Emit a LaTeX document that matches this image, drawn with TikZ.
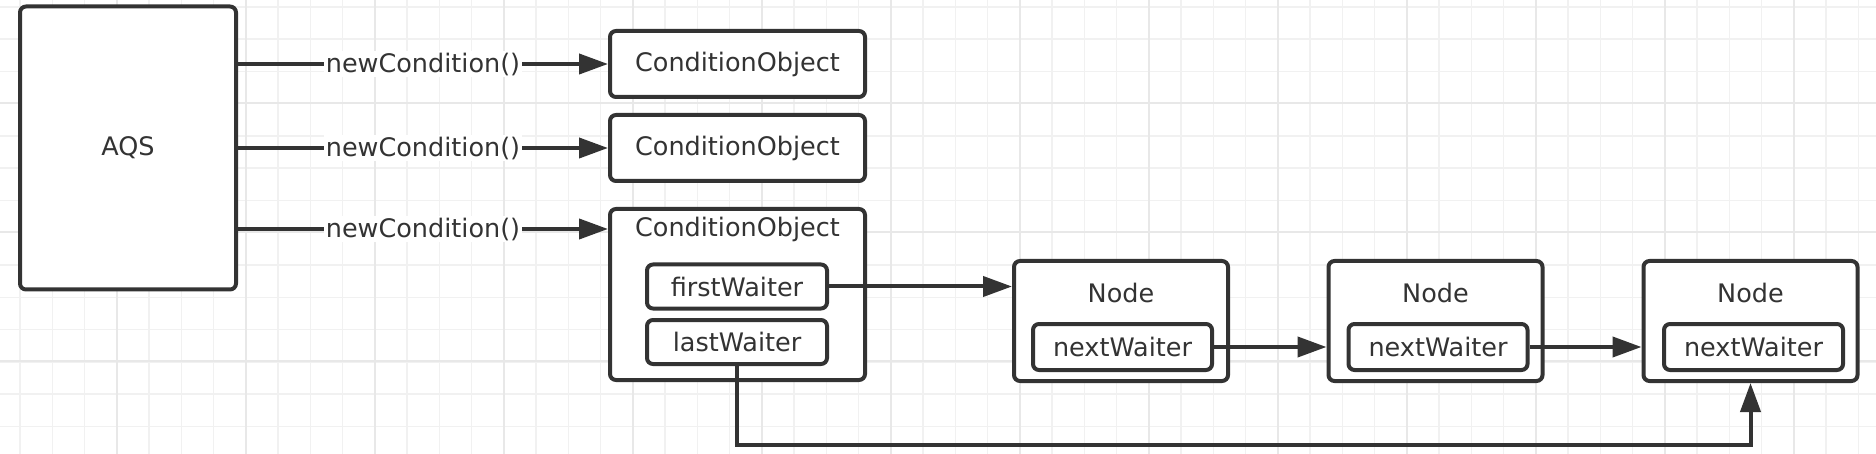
\documentclass[tikz,border=0pt]{standalone}
\usepackage{fontspec}
\setmainfont{DejaVu Sans}
\usetikzlibrary{arrows.meta}
\definecolor{ink}{HTML}{333333}
\definecolor{gridminor}{HTML}{F1F1F1}
\definecolor{gridmajor}{HTML}{E8E8E8}
\tikzset{
  txt/.style={font=\fontsize{25.5}{30}\selectfont, text=ink},
  box/.style={draw=ink, line width=4pt, rounded corners=6pt, fill=white, inner sep=0pt},
  conn/.style={draw=ink, line width=4pt, -{Triangle[length=29pt,width=20pt]}},
  lbl/.style={txt, fill=white, inner sep=2pt},
}
\begin{document}
\begin{tikzpicture}[x=1pt,y=-1pt]
\useasboundingbox (0,0) rectangle (1876,454);
\fill[white] (0,0) rectangle (1876,454);
% grid
\foreach \k in {0,...,58} {
  \draw[gridminor, line width=1.5pt] ({20+32.25*\k},0) -- ({20+32.25*\k},454);
}
\foreach \k in {0,...,14} {
  \draw[gridminor, line width=1.5pt] (0,{7+32.25*\k}) -- (1876,{7+32.25*\k});
}
\foreach \k in {0,...,14} {
  \draw[gridmajor, line width=1.6pt] ({117+129*\k},0) -- ({117+129*\k},454);
}
\foreach \k in {0,...,3} {
  \draw[gridmajor, line width=1.6pt] (0,{103+129*\k}) -- (1876,{103+129*\k});
}
% AQS
\node[box, txt, minimum width=216pt, minimum height=283pt] (aqs) at (128,148) {AQS};
% condition objects
\node[box, txt, minimum width=255pt, minimum height=66pt] (co1) at (737.5,64) {ConditionObject};
\node[box, txt, minimum width=255pt, minimum height=66pt] (co2) at (737.5,148) {ConditionObject};
\node[box, minimum width=255pt, minimum height=171pt] (co3) at (737.5,294.5) {};
\node[txt, inner sep=0pt] (co3t) at (737.5,229) {ConditionObject};
\node[box, txt, minimum width=180pt, minimum height=44pt] (fw) at (737,286.5) {firstWaiter};
\node[box, txt, minimum width=180pt, minimum height=44pt] (lw) at (737,342) {lastWaiter};
% nodes
\node[box, minimum width=214pt, minimum height=120pt] (n1) at (1121,321) {};
\node[txt, inner sep=0pt] (n1t) at (1121,293) {Node};
\node[box, txt, minimum width=179pt, minimum height=46pt] (nw1) at (1122.5,347) {nextWaiter};
\node[box, minimum width=214pt, minimum height=120pt] (n2) at (1435.5,321) {};
\node[txt, inner sep=0pt] (n2t) at (1435.5,293) {Node};
\node[box, txt, minimum width=179pt, minimum height=46pt] (nw2) at (1438,347) {nextWaiter};
\node[box, minimum width=214pt, minimum height=120pt] (n3) at (1750.5,321) {};
\node[txt, inner sep=0pt] (n3t) at (1750.5,293) {Node};
\node[box, txt, minimum width=179pt, minimum height=46pt] (nw3) at (1753.5,347) {nextWaiter};
% connectors
\draw[conn] (aqs.east |- co1.west) -- node[lbl] {newCondition()} (co1.west);
\draw[conn] (aqs.east |- co2.west) -- node[lbl] {newCondition()} (co2.west);
\draw[conn] (aqs.east |- co3t.center) -- node[lbl] {newCondition()} (co3.west |- co3t.center);
\draw[conn] (fw.east) -- (fw.east -| n1.west);
\draw[conn] (nw1.east) -- (nw1.east -| n2.west);
\draw[conn] (nw2.east) -- (nw2.east -| n3.west);
\coordinate (turn) at (1750.5,445);
\draw[conn] (lw.south) -- (lw.south |- turn) -- (turn) -- (n3.south);
\end{tikzpicture}
\end{document}
